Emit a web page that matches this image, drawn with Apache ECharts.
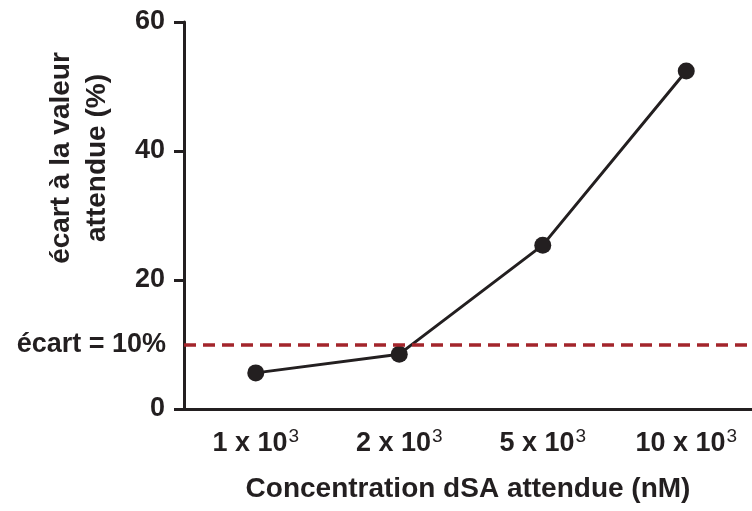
<!DOCTYPE html>
<html><head><meta charset="utf-8">
<script src="https://cdn.jsdelivr.net/npm/echarts@6/dist/echarts.min.js"></script>
<style>html,body{margin:0;padding:0;background:#fff;overflow:hidden;width:752px;height:511px}#c{width:770px;height:511px}</style>
</head><body><div id="c"></div>
<script>
const categories = ['1 x 10', '2 x 10', '5 x 10', '10 x 10'];
const exponents = ['3', '3', '3', '3'];
const values = [5.6, 8.5, 25.4, 52.4];
const thresholdValue = 10;
const thresholdLabel = 'écart = 10%';
const yTicks = [0, 20, 40, 60];
const xTitle = 'Concentration dSA attendue (nM)';
const yTitleLines = ['écart à la valeur', 'attendue (%)'];

const FONT = 'Liberation Sans, Arial, sans-serif';
const ink = '#231f20';
const chart = echarts.init(document.getElementById('c'));
chart.setOption({
  animation: false,
  grid: { left: 184, width: 574, top: 22, height: 387, containLabel: false },
  xAxis: {
    type: 'category',
    data: categories,
    boundaryGap: true,
    axisLine: { lineStyle: { color: ink, width: 3 } },
    axisTick: { alignWithLabel: true, length: 10, lineStyle: { color: ink, width: 3 } },
    axisLabel: {
      margin: 18,
      formatter: function (v, i) { return '{b|' + v + '}{s|' + exponents[i] + '}'; },
      rich: {
        b: { fontFamily: FONT, fontWeight: 'bold', fontSize: 27, color: ink, verticalAlign: 'bottom', lineHeight: 30 },
        s: { fontFamily: FONT, fontWeight: 'normal', fontSize: 19, color: ink, verticalAlign: 'top', padding: [0, 0, 12, 1], lineHeight: 30 }
      }
    },
    name: xTitle,
    nameLocation: 'middle',
    nameGap: 66,
    nameTextStyle: { fontFamily: FONT, fontWeight: 'bold', fontSize: 28, color: ink, padding: [0, 6, 0, 0] }
  },
  yAxis: {
    type: 'value',
    min: yTicks[0],
    max: yTicks[yTicks.length - 1],
    interval: 20,
    splitLine: { show: false },
    axisLine: { show: true, lineStyle: { color: ink, width: 3 } },
    axisTick: { show: true, length: 10, lineStyle: { color: ink, width: 3 } },
    axisLabel: { margin: 19, fontFamily: FONT, fontWeight: 'bold', fontSize: 27, color: ink }
  },
  graphic: [{
    type: 'text',
    x: 79, y: 158,
    rotation: Math.PI / 2,
    style: {
      text: yTitleLines.join('\n'),
      fontFamily: FONT, fontWeight: 'bold', fontSize: 28, lineHeight: 36,
      fill: ink, align: 'center', verticalAlign: 'middle'
    }
  }],
  series: [{
    type: 'line',
    data: values,
    symbol: 'circle',
    symbolSize: 17,
    itemStyle: { color: ink },
    lineStyle: { color: ink, width: 3 },
    z: 3,
    markLine: {
      silent: true,
      symbol: 'none',
      data: [{ yAxis: thresholdValue }],
      lineStyle: { color: '#a3252b', width: 3.5, type: [12, 7] },
      label: {
        show: true, position: 'start', distance: 18,
        formatter: thresholdLabel,
        fontFamily: FONT, fontWeight: 'bold', fontSize: 27, color: ink
      }
    }
  }]
});
</script></body></html>
